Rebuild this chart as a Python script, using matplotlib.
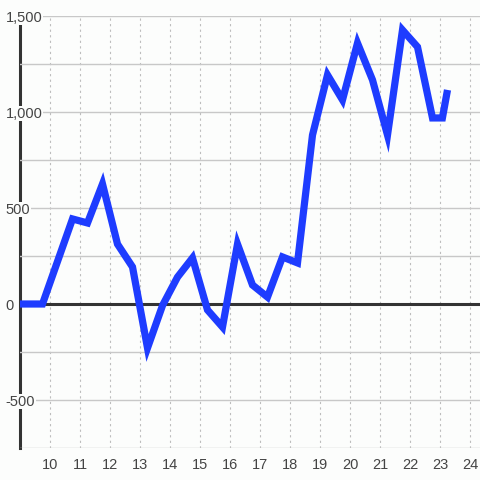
import matplotlib
matplotlib.use("Agg")
import matplotlib.pyplot as plt
from matplotlib.ticker import FixedLocator, FixedFormatter, MultipleLocator

plt.rcParams["font.family"] = ["Liberation Sans", "DejaVu Sans"]

# hour of day and value
hours = [9.0, 9.75, 10.75, 11.25, 11.75, 12.25, 12.75, 13.25, 13.75, 14.25,
         14.75, 15.25, 15.75, 16.25, 16.75, 17.25, 17.75, 18.25, 18.75, 19.25,
         19.75, 20.25, 20.75, 21.25, 21.75, 22.25, 22.75, 23.08, 23.25]
values = [0, 0, 443, 422, 625, 312, 193, -229, -8, 140,
          240, -31, -120, 312, 99, 36, 245, 214, 880, 1193,
          1063, 1359, 1167, 880, 1427, 1339, 969, 969, 1115]

x_ticks = list(range(10, 25))
y_ticks = [-500, 0, 500, 1000, 1500]
y_labels = ["-500", "0", "500", "1,000", "1,500"]

bg = "#fcfdfc"
fig = plt.figure(figsize=(4.8, 4.8), dpi=100, facecolor=bg)
ax = fig.add_axes([20 / 480, 32 / 480, 460 / 480, 432 / 480], facecolor=bg)

ax.set_xlim(9.0, 9.0 + 460 / 30)
ax.set_ylim(-750, 1500)

# grid
ax.yaxis.set_major_locator(FixedLocator(y_ticks))
ax.yaxis.set_major_formatter(FixedFormatter(y_labels))
ax.yaxis.set_minor_locator(MultipleLocator(250))
ax.grid(axis="y", which="both", color="#c8c8c8", lw=1, zorder=0)
ax.xaxis.set_major_locator(FixedLocator(x_ticks))
ax.grid(axis="x", which="major", color="#bdbdbd", lw=0.8,
        linestyle=(0, (2, 3)), zorder=0)

ax.axhline(0, color="#333333", lw=2.2, zorder=2)

ax.plot(hours, values, color="#1e3cff", lw=5.2, solid_joinstyle="miter",
        solid_capstyle="butt", zorder=3, clip_on=True)

for s in ["top", "right", "bottom"]:
    ax.spines[s].set_visible(False)
ax.spines["left"].set_color("#333333")
ax.spines["left"].set_linewidth(2.2)
ax.spines["left"].set_bounds(-750, 1460)
ax.spines["left"].set_zorder(1)

ax.tick_params(axis="both", which="both", length=0, labelsize=10.5,
               labelcolor="#444444")
ax.tick_params(axis="x", pad=7)
ax.tick_params(axis="y", pad=-1)
for lab in ax.get_yticklabels():
    lab.set_horizontalalignment("left")
    lab.set_bbox(dict(facecolor=bg, edgecolor="none", pad=0.5))
    lab.set_zorder(5)
# move y labels to the left edge of the figure
for lab in ax.yaxis.get_majorticklabels():
    lab.set_x(-16 / 460)

fig.savefig("out.png", dpi=100, facecolor=bg)
